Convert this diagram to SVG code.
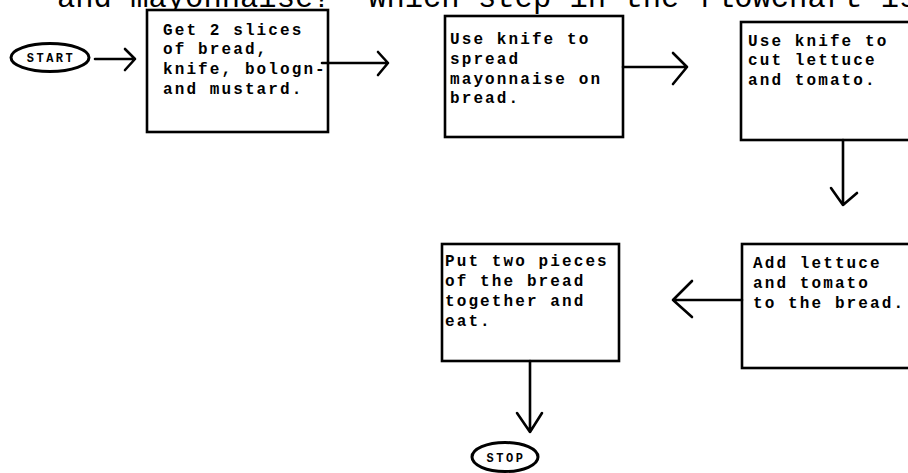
<svg xmlns="http://www.w3.org/2000/svg" width="908" height="473" viewBox="0 0 908 473">
<style>
.box{fill:#fff;stroke:#000;stroke-width:2.6}
.term{fill:#fff;stroke:#000;stroke-width:3}
.t{font-family:"Liberation Mono","DejaVu Sans Mono",monospace;font-size:16px;font-weight:bold;fill:#000;letter-spacing:2.1px}
.tt{font-family:"Liberation Mono","DejaVu Sans Mono",monospace;font-size:12px;font-weight:bold;fill:#000;letter-spacing:2.5px}
.head{font-family:"Liberation Mono","DejaVu Sans Mono",monospace;font-size:30.5px;fill:#000}
.c{fill:none;stroke:#000;stroke-width:2.6;stroke-linecap:round;stroke-linejoin:round}
</style>
<rect width="908" height="473" fill="#fff"/>
<text class="head" x="57" y="7" xml:space="preserve">and mayonnaise?  Which step in the flowchart is</text>

<g id="start">
<ellipse class="term" cx="50" cy="57.5" rx="39" ry="14"/>
<text class="tt" x="51" y="62" text-anchor="middle">START</text>
</g>

<g id="step1">
<rect class="box" x="147" y="10" width="181" height="122"/>
<text class="t" x="163" y="35">Get 2 slices</text>
<text class="t" x="163" y="54">of bread,</text>
<text class="t" x="163" y="74">knife, bologn-</text>
<text class="t" x="163" y="94">and mustard.</text>
</g>

<g id="step2">
<rect class="box" x="445" y="16" width="178" height="121"/>
<text class="t" x="450" y="44">Use knife to</text>
<text class="t" x="450" y="64">spread</text>
<text class="t" x="450" y="84">mayonnaise on</text>
<text class="t" x="450" y="103">bread.</text>
</g>

<g id="step3">
<rect class="box" x="741" y="22" width="200" height="118"/>
<text class="t" x="748" y="46">Use knife to</text>
<text class="t" x="748" y="65">cut lettuce</text>
<text class="t" x="748" y="85">and tomato.</text>
</g>

<g id="step4">
<rect class="box" x="742" y="244" width="200" height="124"/>
<text class="t" x="753" y="268">Add lettuce</text>
<text class="t" x="753" y="288">and tomato</text>
<text class="t" x="753" y="308">to the bread.</text>
</g>

<g id="step5">
<rect class="box" x="442" y="244" width="177" height="117"/>
<text class="t" x="445" y="266">Put two pieces</text>
<text class="t" x="445" y="286">of the bread</text>
<text class="t" x="445" y="306">together and</text>
<text class="t" x="445" y="326">eat.</text>
</g>

<g id="stop">
<ellipse class="term" cx="505" cy="457" rx="33" ry="14.5"/>
<text class="tt" x="506" y="462" text-anchor="middle">STOP</text>
</g>

<g id="connectors">
<path class="c" d="M95 59H135M125 49L135 59L125 70"/>
<path class="c" d="M322 63H388M378 52L388 63L378 75"/>
<path class="c" d="M623 67H687M673 53L687 67L673 84"/>
<path class="c" d="M843 140V205M831 188L843 205L857 193"/>
<path class="c" d="M742 300H673M692 281L673 300L692 317"/>
<path class="c" d="M530 361V432M517 413L530 432L542 413"/>
</g>
</svg>
